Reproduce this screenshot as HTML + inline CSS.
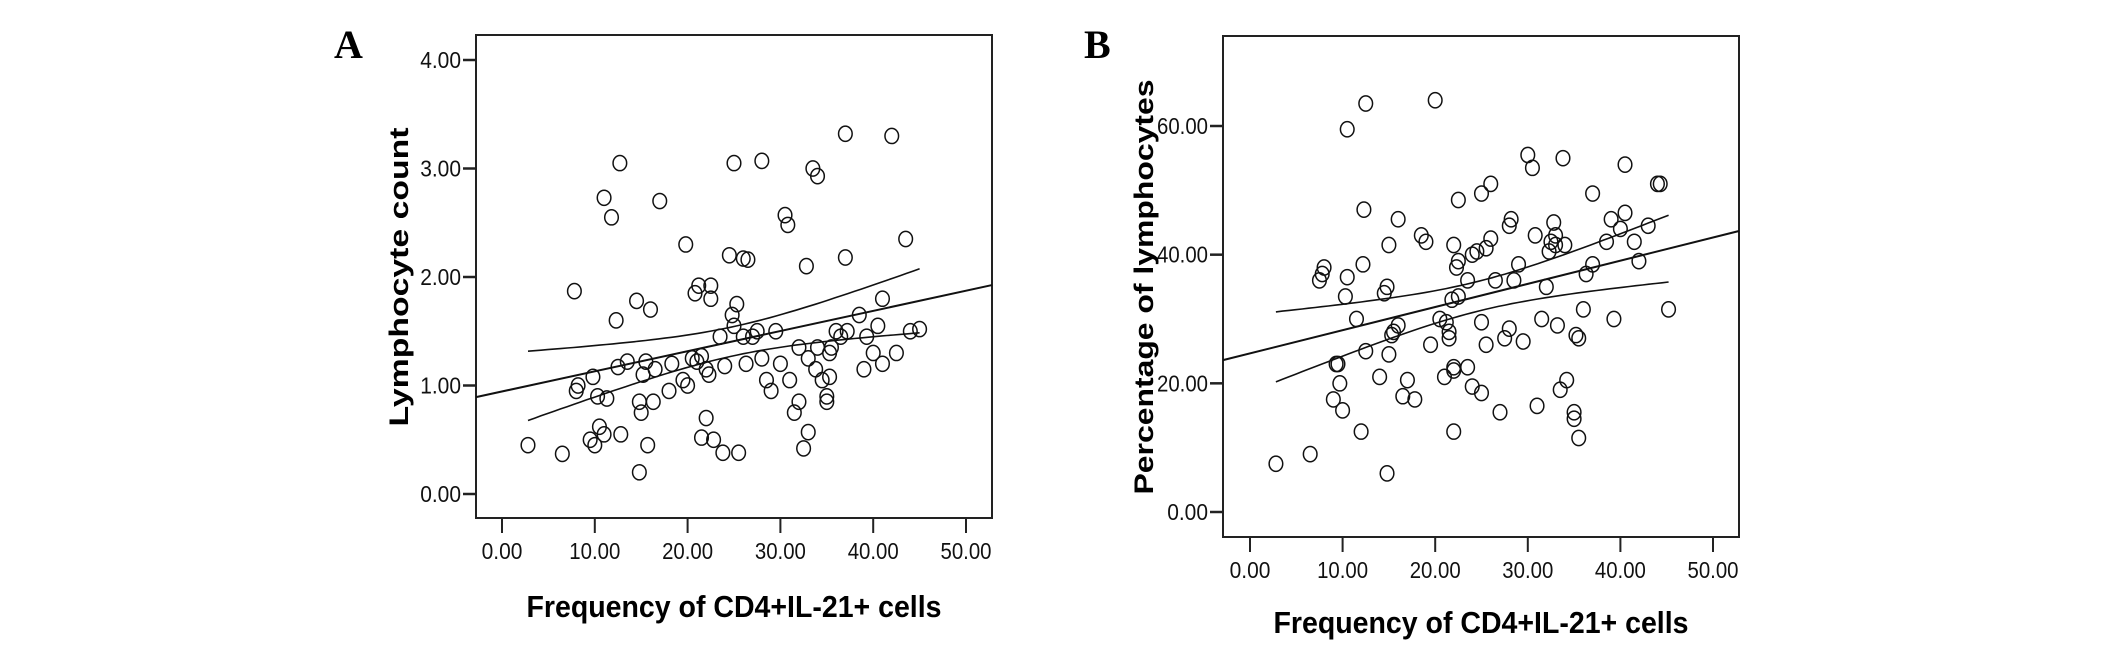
<!DOCTYPE html>
<html><head><meta charset="utf-8"><style>
html,body{margin:0;padding:0;background:#fff}
svg{display:block}
.tick{font-family:"Liberation Sans Narrow","Liberation Sans",sans-serif;font-size:23px;fill:#111}
.ttl{font-family:"Liberation Sans Narrow","Liberation Sans",sans-serif;font-weight:bold;font-size:31px;fill:#000}
.yttl{font-family:"Liberation Sans",sans-serif;font-weight:bold;font-size:27px;fill:#000}
.lett{font-family:"Liberation Serif",serif;font-weight:bold;font-size:40px;fill:#000}
</style></head><body>
<svg id="fig" width="2126" height="656" viewBox="0 0 2126 656"></svg>
<script>
const xTicksA=[0,10,20,30,40,50];
const yTicksA=[0,1,2,3,4];
const xTicksB=[0,10,20,30,40,50];
const yTicksB=[0,20,40,60];
const xA=[2.8,6.5,7.8,8,8.2,9.5,9.8,10,10.3,10.5,11,11,11.3,11.8,12.3,12.5,12.7,12.8,13.5,14.5,14.8,14.8,15,15.2,15.5,15.7,16,16.3,16.5,17,18,18.3,19.5,19.8,20,20.5,20.8,21,21.2,21.5,21.5,22,22,22.3,22.5,22.5,22.8,23.5,23.8,24,24.5,24.8,25,25,25.3,25.5,26,26,26.3,26.5,27,27.5,28,28,28.5,29,29.5,30,30.5,30.8,31,31.5,32,32,32.5,32.8,33,33,33.5,33.8,34,34,34.5,35,35,35.3,35.3,35.5,36,36.5,37,37,37.2,38.5,39,39.3,40,40.5,41,41,42,42.5,43.5,44,45];
const yA=[0.45,0.37,1.87,0.95,1.0,0.5,1.08,0.45,0.9,0.62,0.55,2.73,0.88,2.55,1.6,1.17,3.05,0.55,1.22,1.78,0.85,0.2,0.75,1.1,1.22,0.45,1.7,0.85,1.15,2.7,0.95,1.2,1.05,2.3,1.0,1.25,1.85,1.22,1.92,0.52,1.27,0.7,1.15,1.1,1.8,1.92,0.5,1.45,0.38,1.18,2.2,1.65,1.55,3.05,1.75,0.38,2.17,1.45,1.2,2.16,1.45,1.5,1.25,3.07,1.05,0.95,1.5,1.2,2.57,2.48,1.05,0.75,1.35,0.85,0.42,2.1,0.57,1.25,3.0,1.15,1.35,2.93,1.05,0.9,0.85,1.08,1.3,1.35,1.5,1.45,2.18,3.32,1.5,1.65,1.15,1.45,1.3,1.55,1.2,1.8,3.3,1.3,2.35,1.5,1.52];
const xB=[2.8,6.5,7.5,7.8,8,9,9.3,9.5,9.7,10,10.3,10.5,10.5,11.5,12,12.2,12.3,12.5,12.5,14,14.5,14.8,14.8,15,15,15.3,15.5,16,16,16.5,17,17.8,18.5,19,19.5,20,20.5,21,21.2,21.5,21.5,21.8,22,22,22,22,22.3,22.5,22.5,22.5,23.5,23.5,24,24,24.5,25,25,25,25.5,25.5,26,26,26.5,27,27.5,28,28,28.2,28.5,29,29.5,30,30.5,30.8,31,31.5,32,32.3,32.5,32.8,33,33,33.2,33.5,33.8,34,34.2,35,35,35.2,35.5,35.5,36,36.3,37,37,38.5,39,39.3,40,40.5,40.5,41.5,42,43,44,44.3,45.2];
const yB=[7.5,9,36,37,38,17.5,23,23,20,15.8,33.5,59.5,36.5,30,12.5,38.5,47,25,63.5,21,34,35,6,24.5,41.5,27.5,28,45.5,29,18,20.5,17.5,43,42,26,64,30,21,29.5,28,27,33,22,41.5,22.5,12.5,38,39,48.5,33.5,36,22.5,19.5,40,40.5,29.5,49.5,18.5,41,26,42.5,51,36,15.5,27,28.5,44.5,45.5,36,38.5,26.5,55.5,53.5,43,16.5,30,35,40.5,42,45,43,41.5,29,19,55,41.5,20.5,15.5,14.5,27.5,27,11.5,31.5,37,38.5,49.5,42,45.5,30,44,46.5,54,42,39,44.5,51,51,31.5];

const NS='http://www.w3.org/2000/svg';
const svg=document.getElementById('fig');
function mk(tag,attrs,parent){const e=document.createElementNS(NS,tag);for(const k in attrs)e.setAttribute(k,attrs[k]);(parent||svg).appendChild(e);return e;}

function panel(cfg){
  const g=mk('g',{});
  
  
  const sx=v=>cfg.x0+v*(cfg.x50-cfg.x0)/50;
  const sy=v=>cfg.y0+v*(cfg.yTop-cfg.y0)/cfg.yTopVal;
  const box=mk('rect',{x:cfg.L,y:cfg.T,width:cfg.R-cfg.L,height:cfg.B-cfg.T,fill:'none',stroke:'#222','stroke-width':2},g);
  
  
  cfg.yT.forEach(v=>{
    const y=sy(v);
    const t=mk('line',{x1:cfg.L-13,x2:cfg.L,y1:y,y2:y,stroke:'#222','stroke-width':2.5},g);
    
    
    const lab=v.toFixed(2);
    const tx=mk('text',{x:cfg.L-15,y:y+8,'text-anchor':'end',class:'tick',textLength:lab.length*10.2,lengthAdjust:'spacingAndGlyphs'},g);
    tx.textContent=lab;
    
    
  });
  cfg.xT.forEach(v=>{
    const x=sx(v);
    const t=mk('line',{x1:x,x2:x,y1:cfg.B,y2:cfg.B+15,stroke:'#222','stroke-width':2},g);
    
    
    const lab=v.toFixed(2);
    const tx=mk('text',{x:x,y:cfg.B+41,'text-anchor':'middle',class:'tick',textLength:lab.length*10.2,lengthAdjust:'spacingAndGlyphs'},g);
    tx.textContent=lab;
    
    
  });
  const xs=cfg.xs, ys=cfg.ys, n=xs.length;
  const mx=xs.reduce((a,b)=>a+b,0)/n, my=ys.reduce((a,b)=>a+b,0)/n;
  let sxx=0,sxy=0;for(let i=0;i<n;i++){sxx+=(xs[i]-mx)**2;sxy+=(xs[i]-mx)*(ys[i]-my);}
  const b=sxy/sxx,a=my-b*mx;
  let sse=0;for(let i=0;i<n;i++)sse+=(ys[i]-a-b*xs[i])**2;
  const s=Math.sqrt(sse/(n-2));
  const xl=(cfg.L-cfg.x0)*50/(cfg.x50-cfg.x0), xr=(cfg.R-cfg.x0)*50/(cfg.x50-cfg.x0);
  const fit=mk('line',{x1:cfg.L,y1:sy(a+b*xl),x2:cfg.R,y2:sy(a+b*xr),stroke:'#111','stroke-width':2},g);
  
  
  const xmin=Math.min(...xs),xmax=Math.max(...xs);
  [1,-1].forEach(sg=>{
    let d='';
    for(let k=0;k<=60;k++){const x=xmin+(xmax-xmin)*k/60;const h=1.984*s*Math.sqrt(1/n+(x-mx)**2/sxx);const y=a+b*x+sg*h;d+=(k?'L':'M')+sx(x).toFixed(1)+' '+sy(y).toFixed(1);}
    const p=mk('path',{d:d,fill:'none',stroke:'#111','stroke-width':1.6},g);
    
    
  });
  for(let i=0;i<n;i++){
    const c=mk('ellipse',{cx:sx(xs[i]),cy:sy(ys[i]),rx:6.8,ry:7.6,fill:'none',stroke:'#111','stroke-width':1.5},g);
    
    
  }
  const xt=mk('text',{x:(cfg.L+cfg.R)/2,y:cfg.xTitleY,'text-anchor':'middle',class:'ttl',textLength:415,lengthAdjust:'spacingAndGlyphs'},g);
  xt.textContent='Frequency of CD4+IL-21+ cells';
  
  
  const yt=mk('text',{x:0,y:0,'text-anchor':'middle',class:'yttl',textLength:cfg.yLen,lengthAdjust:'spacingAndGlyphs',transform:`translate(${cfg.yTitleX},${cfg.yTitleY}) rotate(-90)`},g);
  yt.textContent=cfg.yTitle;
  
  
  const lt=mk('text',{x:cfg.letX,y:58,class:'lett'},g);
  lt.textContent=cfg.letter;
  
  
}
panel({name:'panel-a',L:476,R:992,T:35,B:518,x0:502,x50:966,y0:494,yTop:60,yTopVal:4,xT:xTicksA,yT:yTicksA,xs:xA,ys:yA,xTitleY:617,yTitleX:408,yTitleY:277,yLen:299,yTitle:'Lymphocyte count',letter:'A',letX:334});
panel({name:'panel-b',L:1223,R:1739,T:36,B:537,x0:1250,x50:1713,y0:512,yTop:126,yTopVal:60,xT:xTicksB,yT:yTicksB,xs:xB,ys:yB,xTitleY:633,yTitleX:1153,yTitleY:287,yLen:415,yTitle:'Percentage of lymphocytes',letter:'B',letX:1084});
</script>
</body></html>
